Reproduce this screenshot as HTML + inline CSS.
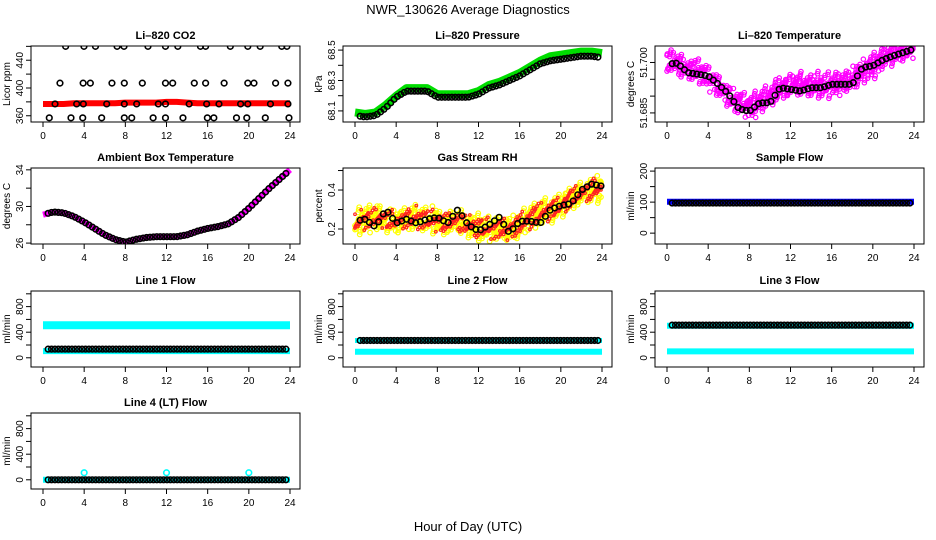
<!DOCTYPE html>
<html><head><meta charset="utf-8"><style>
html,body{margin:0;padding:0;background:#fff;}
svg{display:block;font-family:"Liberation Sans",sans-serif;}
</style></head><body>
<svg id="chart" width="936" height="540" viewBox="0 0 936 540">
<text x="468" y="14" text-anchor="middle" font-size="13">NWR_130626  Average Diagnostics</text>
<text x="468" y="531" text-anchor="middle" font-size="13">Hour of Day (UTC)</text>
</svg>
<script>
// ---------- data ----------
const hourTicks = [0,4,8,12,16,20,24];
const hourly = [0,1,2,3,4,5,6,7,8,9,10,11,12,13,14,15,16,17,18,19,20,21,22,23,24];

// CO2
const co2Hours460 = [2.2,3.98,5.1,7.2,7.87,10.2,11.9,13.1,15.3,15.8,18.2,19.9,21.1,23.2,23.7];
const co2Hours407 = [1.65,3.9,4.6,6.7,7.9,9.65,11.9,12.6,14.7,15.8,17.6,19.9,20.5,22.6,23.8];
const co2Hours378 = [1.17,3.27,3.92,6.19,7.9,9.1,11.2,11.9,14.2,15.9,17.1,19.2,19.9,22.1,23.8];
const co2Hours357 = [0.61,2.72,3.86,5.7,7.9,8.62,10.7,11.9,13.6,15.97,16.6,18.8,19.8,21.6,23.9];
const co2Levels = [460,407,377,357];
const co2Red = [377,377,377,378,378,378,378,378,379,379,379,379,380,380,379,378,378,378,378,378,378,378,378,378,378];

// Pressure
const presGreen = [68.09,68.08,68.09,68.14,68.20,68.25,68.25,68.25,68.21,68.21,68.21,68.21,68.23,68.27,68.29,68.32,68.35,68.39,68.43,68.46,68.47,68.48,68.49,68.49,68.48];
const presBlack = [68.07,68.06,68.07,68.12,68.19,68.23,68.23,68.23,68.19,68.19,68.19,68.19,68.21,68.25,68.27,68.30,68.33,68.37,68.41,68.43,68.44,68.45,68.46,68.46,68.45];

// Li-820 temperature
const tempCenter = [51.7005,51.6995,51.6985,51.6975,51.6955,51.6930,51.6900,51.6880,51.6870,51.6880,51.6905,51.6925,51.6930,51.6935,51.6935,51.6930,51.6935,51.6940,51.6950,51.6975,51.6990,51.7010,51.7030,51.7040,51.7045];
const tempBlack = [51.6995,51.6998,51.6970,51.6965,51.6960,51.6935,51.6905,51.6862,51.6855,51.6880,51.6880,51.6925,51.6920,51.6915,51.6925,51.6925,51.6935,51.6935,51.6935,51.6985,51.6990,51.7008,51.7020,51.7030,51.7040];

// Ambient box temperature
const ambTemp = [29.1,29.4,29.3,28.9,28.3,27.6,26.9,26.4,26.1,26.4,26.6,26.7,26.7,26.7,26.9,27.3,27.6,27.8,28.1,28.8,29.8,30.9,32.0,33.0,34.0];

// Gas stream RH
const rhCenter = [0.23,0.25,0.26,0.25,0.24,0.25,0.26,0.25,0.24,0.23,0.24,0.22,0.21,0.20,0.20,0.20,0.22,0.26,0.28,0.30,0.32,0.36,0.38,0.40,0.41];
const rhBlack = [0.24,0.25,0.21,0.30,0.23,0.25,0.23,0.25,0.26,0.23,0.30,0.22,0.19,0.22,0.26,0.18,0.24,0.24,0.23,0.30,0.32,0.33,0.40,0.43,0.42];

// Flows
const sampleBlue = 101, sampleBlack = 97;
const line1Cyan = [510,105], line1Black = 135;
const line2Cyan = [270,95], line2Black = 270;
const line3Cyan = [500,100], line3Black = 510;
const line4Cyan = 0, line4Black = 0, line4SpikeHours = [4,12,20], line4Spike = 110;

// ---------- drawing ----------
const svg = document.getElementById('chart');
const NS = 'http://www.w3.org/2000/svg';
function mk(tag, attrs, parent){const e=document.createElementNS(NS,tag);for(const k in attrs)e.setAttribute(k,attrs[k]);(parent||svg).appendChild(e);return e;}
const colLeft=[31,343,655], rowTop=[46,168,291,413], W=269, H=76;
function interp(arr,t){t=Math.max(0,Math.min(24,t));const i=Math.min(23,Math.floor(t));const f=t-i;return arr[i]*(1-f)+arr[i+1]*f;}
function frac(x){return x-Math.floor(x);}

function panel(col,row,title,ylab,ylim,ticks,labels,name){
  const L=colLeft[col],T=rowTop[row];
  const g=mk('g',{});
  
  
  const xs=h=>L+12+h*(247/24);
  const ys=v=>T+H-(v-ylim[0])/(ylim[1]-ylim[0])*H;
  const t=mk('text',{x:L+W/2,y:T-7,'text-anchor':'middle','font-size':11,'font-weight':'bold'},g);
  t.textContent=title;
  
  
  const yl=mk('text',{x:0,y:0,'text-anchor':'middle','font-size':10,transform:`translate(${L-21},${T+H/2}) rotate(-90)`},g);
  yl.textContent=ylab;
  
  
  hourTicks.forEach(h=>{
    mk('line',{x1:xs(h),x2:xs(h),y1:T+H,y2:T+H+5,stroke:'#000'},g);
    const tx=mk('text',{x:xs(h),y:T+H+17,'text-anchor':'middle','font-size':10},g);
    tx.textContent=h;
    
    
  });
  ticks.forEach((v,i)=>{
    mk('line',{x1:L,x2:L-5,y1:ys(v),y2:ys(v),stroke:'#000'},g);
    if(labels[i]){
      const ty=mk('text',{x:0,y:0,'text-anchor':'middle','font-size':10,transform:`translate(${L-8},${ys(v)}) rotate(-90)`},g);
      ty.textContent=labels[i];
      
      
    }
  });
  const clip='clip'+col+row;
  const cp=mk('clipPath',{id:clip},g);mk('rect',{x:L,y:T,width:W,height:H},cp);
  const pg=mk('g',{'clip-path':`url(#${clip})`},g);
  
  
  mk('rect',{x:L,y:T,width:W,height:H,fill:'none',stroke:'#000'},g);
  return {xs,ys,pg};
}
function pt(p,h,v,color,r,sw){const c=mk('circle',{cx:p.xs(h),cy:p.ys(v),r:r||2.8,fill:'none',stroke:color,'stroke-width':sw||1.6},p.pg);
  
  
  return c;}
function band(p,vals,color,width){
  const d=hourly.map((h,i)=>(i?'L':'M')+p.xs(h).toFixed(1)+','+p.ys(vals[i]).toFixed(1)).join('');
  const b=mk('path',{d,fill:'none',stroke:color,'stroke-width':width,'stroke-linejoin':'round'},p.pg);
  
  
}
function cloud(p,center,spread,color,n,seed,r){
  for(let i=0;i<n;i++){
    const h=Math.min(23.9,Math.max(0,24*i/(n-1)+0.6*(frac(i*0.7548+seed)-0.5)));
    const a=frac(i*0.618034+seed)*2-1, b=frac(i*0.41421+seed*2)*2-1;
    const v=interp(center,h)+spread*(a*0.7+b*0.5)*0.85;
    pt(p,h,v,color,r||2.3,1.2);
  }
}
function hourlyBlack(p,vals,step){
  for(let h=0.5;h<=23.9;h+=step){pt(p,h,interp(vals,h),'#000');}
}

// 1 CO2
let p=panel(0,0,'Li\u2013820 CO2','Licor ppm',[351,460.5],[360,380,400,420,440,460],['360','','400','','440',''],'co2');
band(p,co2Red,'#f00',6);
[co2Hours460,co2Hours407,co2Hours378,co2Hours357].forEach((hs,k)=>hs.forEach(h=>pt(p,h,co2Levels[k],'#000')));

// 2 Pressure
p=panel(1,0,'Li\u2013820 Pressure','kPa',[68.027,68.527],[68.1,68.2,68.3,68.4,68.5],['68.1','','68.3','','68.5'],'pressure');
band(p,presGreen,'#0d0',8);
hourlyBlack(p,presBlack,0.33);

// 3 Temperature
p=panel(2,0,'Li\u2013820 Temperature','degrees C',[51.6823,51.7049],[51.685,51.69,51.695,51.7],['51.685','','','51.700'],'li820-temperature');
cloud(p,tempCenter,0.0042,'#f0f',650,0.1,2.2);
hourlyBlack(p,tempBlack,0.4);

// 4 Ambient
p=panel(0,1,'Ambient Box Temperature','degrees C',[25.9,34.2],[26,28,30,32,34],['26','','30','','34'],'ambient-temperature');
band(p,ambTemp,'#f0f',6);
hourlyBlack(p,ambTemp,0.33);

// 5 RH
p=panel(1,1,'Gas Stream RH','percent',[0.123,0.513],[0.2,0.3,0.4,0.5],['0.2','','0.4',''],'gas-stream-rh');
cloud(p,rhCenter,0.075,'#ff0',650,0.2,2.3);
cloud(p,rhCenter,0.065,'#f22',420,0.55,1.3);
hourlyBlack(p,rhBlack,0.45);

// 6 Sample flow
p=panel(2,1,'Sample Flow','ml/min',[-35,210],[0,50,100,150,200],['0','','100','','200'],'sample-flow');
band(p,hourly.map(()=>sampleBlue),'#00f',6);
hourlyBlack(p,hourly.map(()=>sampleBlack),0.33);

const flowTicks=[0,200,400,600,800,1000], flowLabels=['0','','400','','800',''], flowLim=[-144,1044];
// 7 Line1
p=panel(0,2,'Line 1 Flow','ml/min',flowLim,flowTicks,flowLabels,'line1-flow');
band(p,hourly.map(()=>line1Cyan[0]),'#0ff',8);
band(p,hourly.map(()=>line1Cyan[1]),'#0ff',6);
hourlyBlack(p,hourly.map(()=>line1Black),0.33);
// 8 Line2
p=panel(1,2,'Line 2 Flow','ml/min',flowLim,flowTicks,flowLabels,'line2-flow');
band(p,hourly.map(()=>line2Cyan[1]),'#0ff',6);
band(p,hourly.map(()=>line2Cyan[0]),'#0ff',5);
hourlyBlack(p,hourly.map(()=>line2Black),0.33);
// 9 Line3
p=panel(2,2,'Line 3 Flow','ml/min',flowLim,flowTicks,flowLabels,'line3-flow');
band(p,hourly.map(()=>line3Cyan[0]),'#0ff',6);
band(p,hourly.map(()=>line3Cyan[1]),'#0ff',6);
hourlyBlack(p,hourly.map(()=>line3Black),0.33);
// 10 Line4
p=panel(0,3,'Line 4 (LT) Flow','ml/min',flowLim,flowTicks,flowLabels,'line4-flow');
band(p,hourly.map(()=>line4Cyan),'#0ff',6);
line4SpikeHours.forEach(h=>pt(p,h,line4Spike,'#0ff'));
hourlyBlack(p,hourly.map(()=>line4Black),0.33);
</script>
</body></html>
